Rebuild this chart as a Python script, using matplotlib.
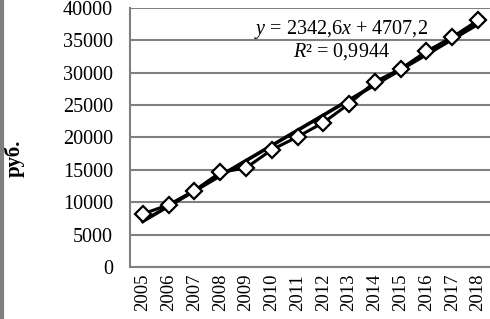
import numpy as np
import matplotlib
matplotlib.use('Agg')
import matplotlib.pyplot as plt
from matplotlib.lines import Line2D

plt.rcParams['font.family'] = ['Liberation Serif', 'DejaVu Serif']
plt.rcParams['mathtext.fontset'] = 'custom'
plt.rcParams['mathtext.rm'] = 'Liberation Serif'
plt.rcParams['mathtext.it'] = 'Liberation Serif:italic'

# Data
years = ['2005', '2006', '2007', '2008', '2009', '2010', '2011',
         '2012', '2013', '2014', '2015', '2016', '2017', '2018']
values = [8200, 9600, 11800, 14600, 15300, 18100, 20100,
          22300, 25200, 28600, 30600, 33300, 35500, 38100]
trend_slope = 2342.6
trend_icept = 4707.2
eq_text = r'$\mathit{y}$ = 2342,6$\mathit{x}$ + 4707,2'
r2_text = r'$\mathit{R}$² = 0,9944'

fig = plt.figure(figsize=(4.9, 3.19), dpi=100)
ax = fig.add_axes([0.265, 0.163, 0.737, 0.812])

x = np.arange(len(years))
trend = trend_slope * (x + 1) + trend_icept

ax.plot(x, trend, color='black', lw=2.6, zorder=3)
ax.plot(x, values, color='black', lw=2.2, marker='D', markersize=8.5,
        markerfacecolor='white', markeredgecolor='black', markeredgewidth=1.6,
        zorder=4)

ax.set_xlim(-0.5, len(years) - 0.5)
ax.set_ylim(0, 40000)
ax.set_yticks(np.arange(0, 40001, 5000))
ax.set_xticks(x)
ax.set_xticklabels(years, rotation=90, fontsize=13.5)
ax.tick_params(axis='y', labelsize=14.5, length=0, pad=12)
ax.tick_params(axis='x', length=0, pad=5)
ax.grid(axis='y', color='#808080', lw=1.5)
ax.set_axisbelow(True)
for s in ['top', 'right']:
    ax.spines[s].set_visible(False)
for s in ['left', 'bottom']:
    ax.spines[s].set_color('#808080')
    ax.spines[s].set_linewidth(1.5)

ax.set_ylabel('руб.', fontsize=15, fontweight='bold', labelpad=0)
ax.yaxis.set_label_coords(-0.29, 0.42)

ax.text(0.585, 0.915, eq_text, transform=ax.transAxes, ha='center',
        va='center', fontsize=14.5)
ax.text(0.585, 0.83, r2_text, transform=ax.transAxes, ha='center',
        va='center', fontsize=14.5)

# grey frame line on the left edge of the picture
fig.add_artist(Line2D([0.004, 0.004], [0, 1], transform=fig.transFigure,
                      color='#808080', lw=3))

fig.savefig('out.png', dpi=100)
